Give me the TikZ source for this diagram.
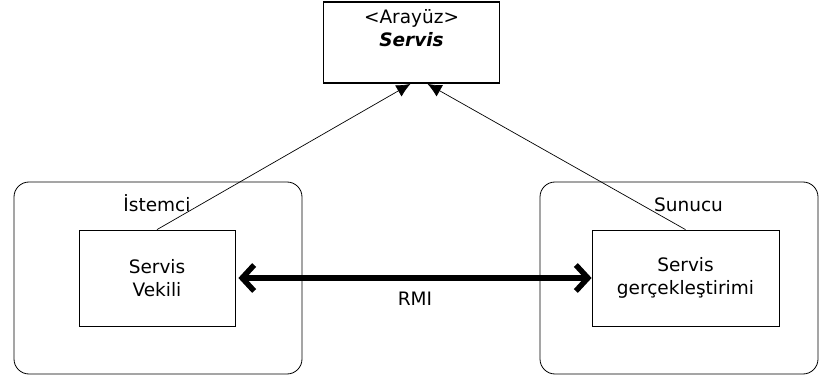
\documentclass[tikz,border=0pt]{standalone}
\usepackage{fontspec}
\setmainfont{DejaVu Sans}
\usetikzlibrary{arrows.meta,positioning}

\begin{document}
\begin{tikzpicture}[x=1pt,y=-1pt,
    every node/.style = {font=\fontsize{18.5}{23}\selectfont},
    kutu/.style = {shape=rectangle, draw, line width=0.8pt,
      align=center, inner sep=0pt},
    taraf/.style = {shape=rectangle, draw, line width=0.8pt,
      rounded corners=15pt, inner sep=0pt},
    gercek/.style = {-{Latex[length=14pt,width=13pt]}, line width=0.7pt}]
  \useasboundingbox (0,0) rectangle (820,377);
  % arayuz
  \node[kutu, line width=1.8pt, minimum width=176pt, minimum height=81pt]
    (arayuz) at (411.5,42.5) {};
  \node[align=center, below=5pt of arayuz.north] (arayuzyazi)
    {<Arayüz>\\ \textbf{\textit{Servis}}};
  % istemci ve sunucu
  \node[taraf, minimum width=288pt, minimum height=192pt] (istemci) at (158,278) {};
  \node[taraf, minimum width=278pt, minimum height=192pt] (sunucu) at (679,278) {};
  \node[kutu, minimum width=156pt, minimum height=96pt] (vekil) at (157,278)
    {Servis\\ Vekili};
  \node[kutu, minimum width=187pt, minimum height=96pt] (gerc) at (685.5,278)
    {Servis\\ gerçekleştirimi};
  \node[above=14pt of vekil] (istemciyazi) {İstemci};
  \node[above=14pt of gerc, xshift=3pt] (sunucuyazi) {Sunucu};
  % oklar
  \coordinate (ucsol) at ([xshift=-1pt]arayuz.south);
  \coordinate (ucsag) at ([xshift=16pt]arayuz.south);
  \draw[gercek] (vekil.north) -- (ucsol);
  \draw[gercek] (gerc.north) -- (ucsag);
  \draw[line width=5.5pt,
    {Straight Barb[length=12pt,width=26pt]}-{Straight Barb[length=12pt,width=26pt]}]
    ([xshift=3pt]vekil.east) -- node[below=8pt] (rmi) {RMI} (gerc.west);
\end{tikzpicture}
\end{document}
